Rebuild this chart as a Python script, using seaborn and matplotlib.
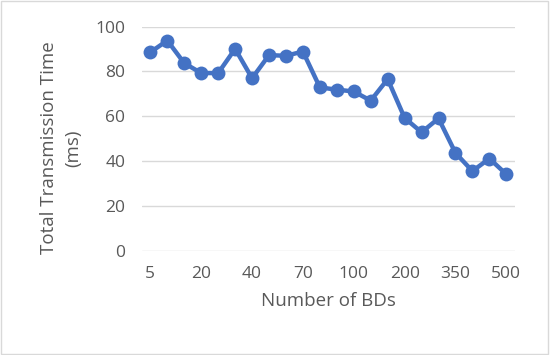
import numpy as np
import pandas as pd
import matplotlib
matplotlib.use("Agg")
import matplotlib.pyplot as plt
import seaborn as sns

# number of BDs (categories) and total transmission time (ms)
bds = ["5", "10", "15", "20", "25", "30", "40", "50", "60", "70", "80",
       "90", "100", "125", "150", "200", "250", "300", "350", "400", "450", "500"]
time_ms = [88.6, 93.8, 83.7, 79.3, 79.3, 90.1, 77.0, 87.3, 87.0, 88.9, 72.9,
           71.9, 71.1, 67.0, 76.6, 59.3, 52.9, 59.1, 43.7, 35.6, 41.2, 34.2]
y_ticks = [0, 20, 40, 60, 80, 100]
shown_labels = ["5", "20", "40", "70", "100", "200", "350", "500"]

df = pd.DataFrame({"bds": bds, "time": time_ms})

sns.set_style("white")
plt.rcParams["font.family"] = ["Open Sans", "DejaVu Sans"]
text_col = "#595959"

fig = plt.figure(figsize=(5.5, 3.55), dpi=100)
ax = fig.add_axes([0.258, 0.293, 0.678, 0.632])

sns.lineplot(data=df, x="bds", y="time", sort=False, ax=ax,
             color="#4472C4", linewidth=3.2, marker="o", markersize=10,
             markeredgewidth=0)

ax.set_xlim(-0.5, len(bds) - 0.5)
ax.set_ylim(0, 100)
ax.set_yticks(y_ticks)
ax.yaxis.grid(True, color="#d9d9d9", linewidth=1)
ax.set_axisbelow(True)

pos = [bds.index(s) for s in shown_labels]
ax.set_xticks(pos)
ax.set_xticklabels(shown_labels)

ax.tick_params(axis="both", length=0, labelsize=12.5, colors=text_col)
ax.tick_params(axis="y", pad=12)
ax.tick_params(axis="x", pad=11)
for s in ax.spines.values():
    s.set_visible(False)

ax.set_xlabel("Number of BDs", fontsize=13.5, color=text_col, labelpad=7)
ax.set_ylabel("Total Transmission Time\n(ms)", fontsize=13.5, color=text_col,
              labelpad=9, linespacing=1.5)
ax.yaxis.label.set_y(0.46)

# light border around the chart area
fig.patches.append(plt.Rectangle((0.002, 0.003), 0.995, 0.993,
                                 transform=fig.transFigure, fill=False,
                                 edgecolor="#d9d9d9", linewidth=1))

fig.savefig("out.png", dpi=100)
